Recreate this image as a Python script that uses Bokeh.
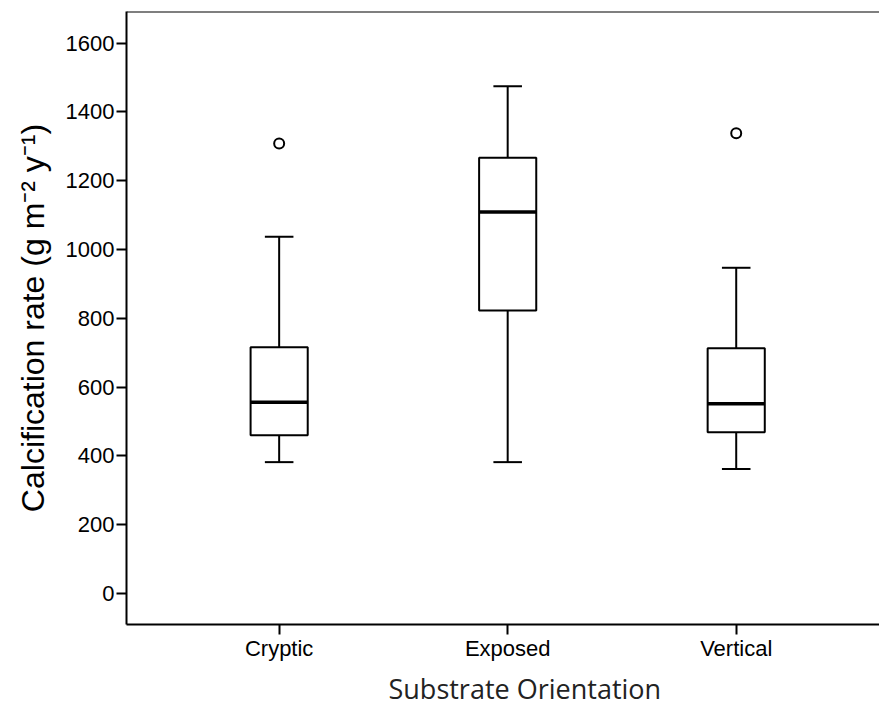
from bokeh.plotting import figure
from bokeh.models import Range1d, FixedTicker, Span, ColumnDataSource, Title
from bokeh.embed import file_html
from bokeh.resources import INLINE

# ---- data ----
categories = ["Cryptic", "Exposed", "Vertical"]
whisker_low = [382, 382, 362]
q1 = [460, 823, 469]
median = [556, 1109, 552]
q3 = [716, 1267, 713]
whisker_high = [1037, 1475, 947]
outlier_cat = ["Cryptic", "Vertical"]
outlier_val = [1308, 1338]
y_ticks = [0, 200, 400, 600, 800, 1000, 1200, 1400, 1600]

xs = list(range(len(categories)))
box_w = 0.25
cap_w = 0.125

src = ColumnDataSource(dict(
    x=xs,
    lo=whisker_low, q1=q1, med=median, q3=q3, hi=whisker_high,
    l=[x - box_w / 2 for x in xs], r=[x + box_w / 2 for x in xs],
    cl=[x - cap_w / 2 for x in xs], cr=[x + cap_w / 2 for x in xs],
))
out_src = ColumnDataSource(dict(
    x=[categories.index(c) for c in outlier_cat], y=outlier_val))

p = figure(width=879, height=710, output_backend="svg", toolbar_location=None,
           x_range=Range1d(-0.668, 2.627), y_range=Range1d(-90, 1692),
           min_border_left=126, min_border_right=0, min_border_top=11,
           min_border_bottom=86)

p.outline_line_color = None
p.xgrid.visible = False
p.ygrid.visible = False
p.background_fill_color = "white"
p.border_fill_color = "white"

# whiskers
p.segment(x0="x", y0="q3", x1="x", y1="hi", source=src, line_color="black", line_width=2)
p.segment(x0="x", y0="lo", x1="x", y1="q1", source=src, line_color="black", line_width=2)
# caps
p.segment(x0="cl", y0="hi", x1="cr", y1="hi", source=src, line_color="black", line_width=2)
p.segment(x0="cl", y0="lo", x1="cr", y1="lo", source=src, line_color="black", line_width=2)
# boxes
p.quad(left="l", right="r", bottom="q1", top="q3", source=src,
       fill_color="white", line_color="black", line_width=2)
# medians
p.segment(x0="l", y0="med", x1="r", y1="med", source=src, line_color="black", line_width=3.5)
# outliers
p.scatter(x="x", y="y", source=out_src, marker="circle", size=10,
          fill_color="white", line_color="black", line_width=2)

# top frame line
p.add_layout(Span(location=1692, dimension="width", line_color="black", line_width=2))

# axes
p.xaxis.ticker = FixedTicker(ticks=xs)
p.xaxis.major_label_overrides = {i: c for i, c in enumerate(categories)}
p.yaxis.ticker = FixedTicker(ticks=y_ticks)

for ax in (p.xaxis[0], p.yaxis[0]):
    ax.axis_line_width = 2
    ax.axis_line_color = "black"
    ax.major_tick_line_width = 2
    ax.major_tick_line_color = "black"
    ax.major_tick_out = 10
    ax.major_tick_in = 0
    ax.minor_tick_out = 0
    ax.minor_tick_in = 0
    ax.major_label_text_font = "Liberation Sans"
    ax.major_label_text_font_size = "22px"
    ax.major_label_text_color = "black"

p.yaxis.major_label_standoff = 2
p.xaxis.major_label_standoff = 1

p.yaxis.axis_label = "Calcification rate (g m\u207b\u00b2 y\u207b\u00b9)"
p.yaxis.axis_label_text_font = "Liberation Sans"
p.yaxis.axis_label_text_font_size = "32px"
p.yaxis.axis_label_text_font_style = "normal"
p.yaxis.axis_label_text_color = "black"
p.yaxis.axis_label_standoff = 12

# x-axis title (as a below title, shifted right like the reference)
xt = Title(text="Substrate Orientation", align="left", offset=262,
           text_font="Open Sans", text_font_size="27px", text_font_style="normal",
           text_color="#222222", standoff=8)
p.add_layout(xt, "below")

open("out.html", "w").write(file_html(p, INLINE))
